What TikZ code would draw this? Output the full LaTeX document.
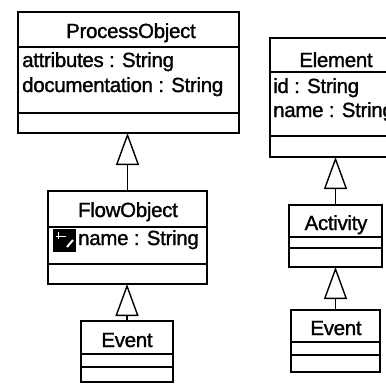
\documentclass[tikz,border=0pt]{standalone}
\usepackage{fontspec}
\setmainfont{Liberation Sans}
\newfontfamily\umlfont[FakeBold=1.3, LetterSpace=-1.5]{Liberation Sans}
\usetikzlibrary{arrows.meta}

\tikzset{
  classbox/.style={draw, line width=1.7pt, anchor=north west, inner sep=0pt, outer sep=0pt},
  sep/.style={line width=1.6pt},
  ctitle/.style={anchor=base, inner sep=0pt, font=\umlfont\fontsize{20.5}{23}\selectfont},
  cattr/.style={anchor=base west, inner sep=0pt, font=\umlfont\fontsize{20.5}{23}\selectfont},
  inherit/.style={line width=1.4pt, -{Triangle[open, length=32pt, width=23pt, line width=1.4pt]}},
}

\begin{document}
\begin{tikzpicture}[x=1pt, y=-1pt]
\useasboundingbox (0,0) rectangle (386,384);
\clip (0,0) rectangle (386,384);
\fill[white] (0,0) rectangle (386,384);

% ---- ProcessObject ----
\node[classbox, minimum width=221pt, minimum height=121pt] (po) at (18,12) {};
\draw[sep] (po.west |- 0,47) -- (po.east |- 0,47);
\draw[sep] (po.west |- 0,113) -- (po.east |- 0,113);
\node[ctitle] (poT) at (131,38) {ProcessObject};
\node[cattr] (poA1) at (22,67) {attributes : String};
\node[cattr] (poA2) at (22,92) {documentation : String};

% ---- FlowObject ----
\node[classbox, minimum width=159pt, minimum height=93pt] (fo) at (48,191) {};
\draw[sep] (fo.west |- 0,227) -- (fo.east |- 0,227);
\draw[sep] (fo.west |- 0,264) -- (fo.east |- 0,264);
\node[ctitle] (foT) at (128,217) {FlowObject};
\node[fill=black, minimum width=23pt, minimum height=23pt, inner sep=0pt, anchor=north west] (icon) at (53,229) {};
\draw[white, line width=1pt] (56,236) -- (66,236);
\draw[white, line width=0.8pt] (58,232) -- (58,239);
\draw[white, line width=2pt] (67,247) -- (73,240);
\node[cattr] (foA1) at (78,245) {name : String};

% ---- Event (left) ----
\node[classbox, minimum width=92pt, minimum height=61pt] (ev1) at (81,321) {};
\draw[sep] (ev1.west |- 0,354) -- (ev1.east |- 0,354);
\draw[sep] (ev1.west |- 0,367) -- (ev1.east |- 0,367);
\node[ctitle] (ev1T) at (127,347) {Event};

% ---- Element ----
\node[classbox, minimum width=132pt, minimum height=119pt] (el) at (270,38) {};
\draw[sep] (el.west |- 0,72) -- (el.east |- 0,72);
\draw[sep] (el.west |- 0,136) -- (el.east |- 0,136);
\node[ctitle] (elT) at (336,67) {Element};
\node[cattr] (elA1) at (273,93) {id : String};
\node[cattr] (elA2) at (273,117) {name : String};

% ---- Activity ----
\node[classbox, minimum width=93pt, minimum height=62pt] (ac) at (289,205) {};
\draw[sep] (ac.west |- 0,237) -- (ac.east |- 0,237);
\draw[sep] (ac.west |- 0,248) -- (ac.east |- 0,248);
\node[ctitle] (acT) at (336,230) {Activity};

% ---- Event (right) ----
\node[classbox, minimum width=89pt, minimum height=62pt] (ev2) at (291,310) {};
\draw[sep] (ev2.west |- 0,342) -- (ev2.east |- 0,342);
\draw[sep] (ev2.west |- 0,355) -- (ev2.east |- 0,355);
\node[ctitle] (ev2T) at (336,335) {Event};

% ---- generalisations ----
\draw[inherit] (fo.north) -- (fo.north |- po.south);
\draw[inherit] (ev1.north) -- (ev1.north |- fo.south);
\draw[inherit] (ac.north) -- (ac.north |- el.south);
\draw[inherit] (ev2.north) -- (ev2.north |- ac.south);
\end{tikzpicture}
\end{document}
